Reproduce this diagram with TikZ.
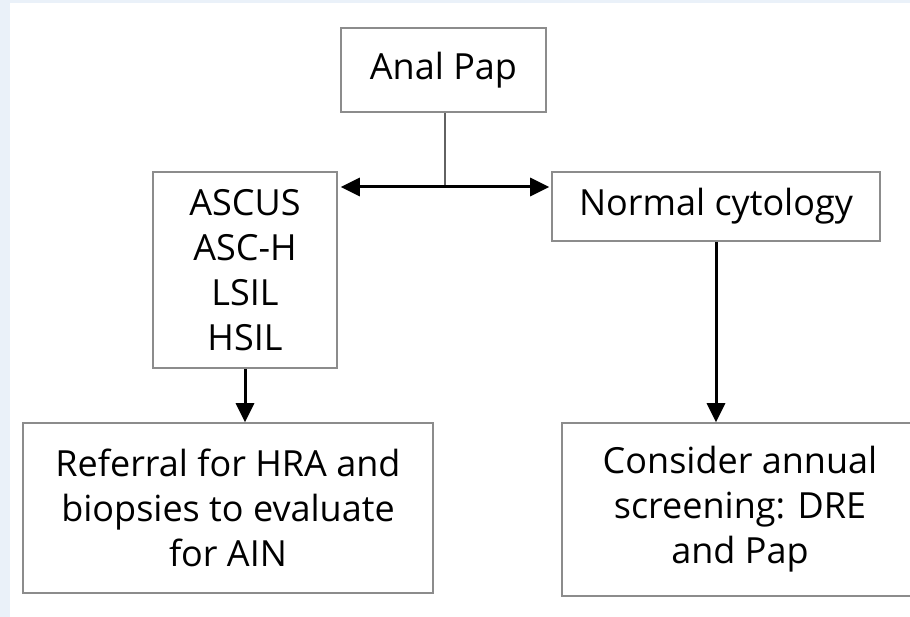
\documentclass[tikz,border=0pt]{standalone}
\usepackage{fontspec}
\setmainfont{Open Sans}
\usepackage{xcolor}
\usetikzlibrary{arrows.meta,positioning,calc}
\definecolor{frame}{HTML}{8C8C8C}
\definecolor{edge}{HTML}{EAF1F9}

\begin{document}
\begin{tikzpicture}[x=1pt,y=-1pt,
  >={Triangle[length=19pt,width=18pt]},
  every node/.style={font=\fontsize{36}{45}\selectfont,text=black},
  flowbox/.style={draw=frame,line width=1.6pt,align=center,inner sep=0pt},
  link/.style={->,line width=3pt,black}]
  \useasboundingbox (0,0) rectangle (910,617);
  \fill[edge] (0,0) rectangle (910,617);
  \fill[white] (10,3) rectangle (910,617);
  % boxes
  \node[flowbox,minimum width=205pt,minimum height=84pt] (pap) at (443.5,70) {Anal Pap};
  \node[flowbox,minimum width=184pt,minimum height=196pt] (abn) at (245,270)
    {ASCUS\\ASC-H\\LSIL\\HSIL};
  \node[flowbox,minimum width=328pt,minimum height=69pt] (norm) at (716,206.5)
    {Normal cytology};
  \node[flowbox,minimum width=410pt,minimum height=170pt] (refer) at (228,508)
    {Referral for HRA and\\biopsies to evaluate\\for AIN};
  \node[flowbox,minimum width=356pt,minimum height=173pt] (screen) at (740,509.5)
    {Consider annual\\screening: DRE\\and Pap};
  % connectors
  \coordinate (split) at (445,187);
  \draw[frame!70!black,line width=1.6pt] (pap.south -| split) -- (split);
  \draw[link] (split) -- ($(split -| abn.east)+(3,0)$);
  \draw[link] (split) -- ($(split -| norm.west)+(-2,0)$);
  \draw[link] (abn.south) -- (abn.south |- refer.north);
  \draw[link] (norm.south) -- (norm.south |- screen.north);
\end{tikzpicture}
\end{document}
